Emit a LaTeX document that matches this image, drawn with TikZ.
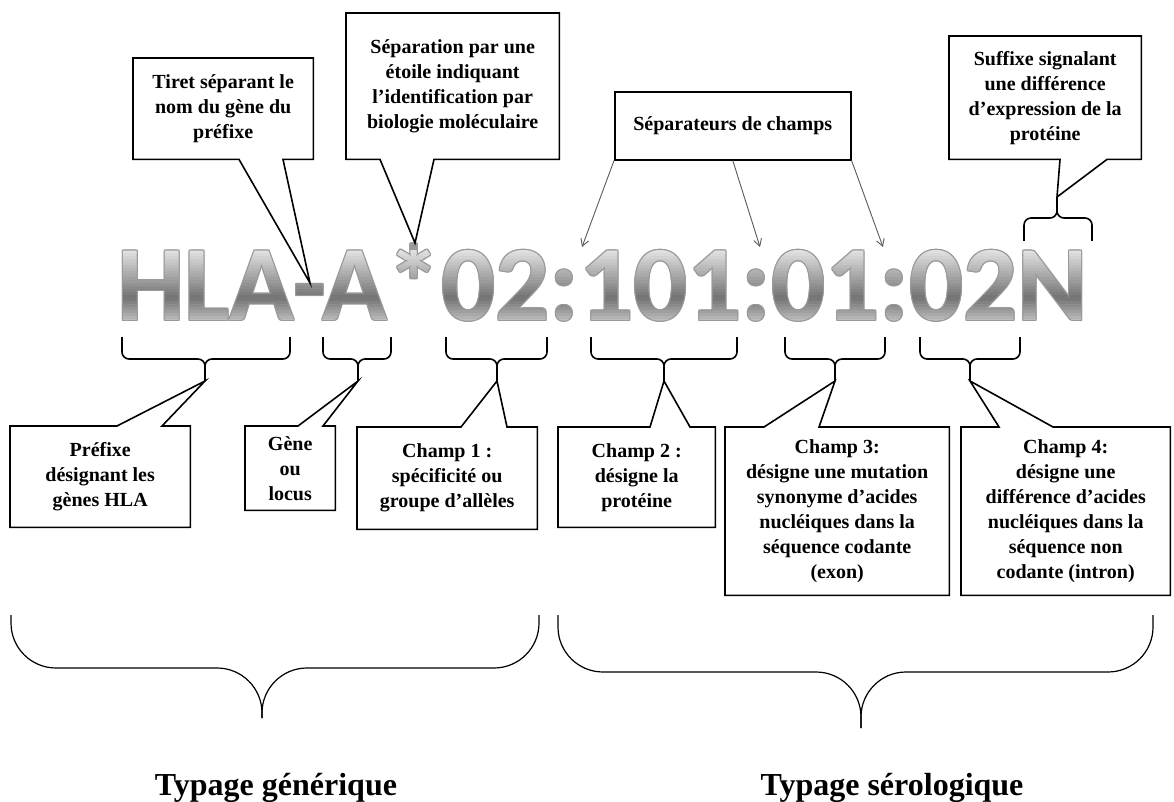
\documentclass[tikz,border=0pt]{standalone}
\usepackage{fontspec}
\setmainfont{Liberation Serif}
\newfontfamily\hlafont{Carlito}
\usetikzlibrary{arrows.meta}

\tikzset{
  callbox/.style={align=center,inner sep=0pt,anchor=north west,font=\fontsize{20}{25}\selectfont\bfseries},
  callline/.style={line width=1.6pt},
  brace/.style={line width=1.6pt,rounded corners=7pt},
  bigbrace/.style={line width=1.2pt,rounded corners=45pt},
  sepline/.style={->,black!65,line width=0.9pt},
  hlatext/.style={anchor=base west,inner sep=0pt,font=\hlafont\bfseries\fontsize{107}{107}\selectfont},
  typtext/.style={anchor=base,font=\fontsize{32}{32}\selectfont\bfseries}
}
% callout outline: box node, left and right end of the pointer base, tip
\newcommand{\calldown}[4]{\draw[callline] (#1.north west) -- (#1.north east) -- (#1.south east) -- (#3,0 |- #1.south) -- (#4) -- (#2,0 |- #1.south) -- (#1.south west) -- cycle;}
\newcommand{\callup}[4]{\draw[callline] (#1.south west) -- (#1.south east) -- (#1.north east) -- (#3,0 |- #1.north) -- (#4) -- (#2,0 |- #1.north) -- (#1.north west) -- cycle;}

\begin{document}
\begin{tikzpicture}[x=1pt,y=-1pt,>={Straight Barb[length=7pt,width=8pt]}]
    \useasboundingbox (0,0) rectangle (1174,802);
    % the allele name, gray rim then gradient in bands
    \foreach \dx/\dy [count=\k] in {-1/0,1/0,0/-1,0/1,-1/-1,1/1,-1/1,1/-1}
        \node[hlatext,text=black!40] (hlarim\k) at ({117+\dx},{320+\dy}) {HLA-A*02:101:01:02N};
    \foreach \i in {0,...,25}{
        \pgfmathsetmacro{\bandpos}{\i/25}
        \pgfmathsetmacro{\banddark}{\bandpos<0.62 ? 12+43*\bandpos/0.62 : 55-37*(\bandpos-0.62)/0.38}
        \begin{scope}
            \clip (0,{250+3*\i}) rectangle (1174,{253.5+3*\i});
            \node[hlatext,text=black!\banddark] (hla\i) at (117,320) {HLA-A*02:101:01:02N};
        \end{scope}
    }

    % callouts above
    \node[callbox,minimum width=180pt,minimum height=101pt] (tiret) at (133,58) {Tiret séparant le\\nom du gène du\\préfixe};
    \node[callbox,minimum width=213pt,minimum height=146pt] (etoile) at (346,13) {Séparation par une\\étoile indiquant\\l’identification par\\biologie moléculaire};
    \node[callbox,draw,line width=1.6pt,minimum width=236pt,minimum height=68pt] (sep) at (614,91) {Séparateurs de champs};
    \node[callbox,minimum width=192pt,minimum height=123pt] (suffixe) at (949,36) {Suffixe signalant\\une différence\\d’expression de la\\protéine};
    \coordinate (tTiret) at (310,283);
    \coordinate (tEtoile) at (415,243);
    \coordinate (tSuffixe) at (1057,197);
    \calldown{tiret}{239}{283}{tTiret}
    \calldown{etoile}{380}{434}{tEtoile}
    \calldown{suffixe}{1060}{1107}{tSuffixe}
    \draw[brace] (1024,241) |- (1057,218) -- (tSuffixe);
    \draw[brace] (1092,241) |- (1057,218) -- (tSuffixe);

    \coordinate (s1) at (582,247);
    \coordinate (s2) at (760,247);
    \coordinate (s3) at (883,247);
    \draw[sepline] (sep.south west) -- (s1);
    \draw[sepline] (sep.south) -- (s2);
    \draw[sepline] (sep.south east) -- (s3);

    % braces under the fields
    \foreach \a/\b/\c [count=\k] in {122/290/205,323/391/358,446/547/497,591/737/664,785/885/835,920/1020/970}{
        \coordinate (b\k) at (\c,381);
        \draw[brace] (\a,337) |- (\c,359) -- (b\k);
        \draw[brace] (\b,337) |- (\c,359) -- (b\k);
    }

    % callouts below
    \node[callbox,minimum width=180pt,minimum height=101pt] (prefixe) at (10,426) {Préfixe\\désignant les\\gènes HLA};
    \node[callbox,minimum width=90pt,minimum height=84pt] (gene) at (245,426) {Gène\\ou\\locus};
    \node[callbox,minimum width=180pt,minimum height=102pt] (champA) at (357,427) {Champ 1 :\\spécificité ou\\groupe d’allèles};
    \node[callbox,minimum width=157pt,minimum height=100pt] (champB) at (558,427) {Champ 2 :\\désigne la\\protéine};
    \node[callbox,minimum width=224pt,minimum height=168pt] (champC) at (725,427) {Champ 3:\\désigne une mutation\\synonyme d’acides\\nucléiques dans la\\séquence codante\\(exon)};
    \node[callbox,minimum width=209pt,minimum height=168pt] (champD) at (961,427) {Champ 4:\\désigne une\\différence d’acides\\nucléiques dans la\\séquence non\\codante (intron)};
    \callup{prefixe}{117}{162}{b1}
    \callup{gene}{298}{323}{b2}
    \callup{champA}{461}{507}{b3}
    \callup{champB}{650}{690}{b4}
    \callup{champC}{764}{819}{b5}
    \callup{champD}{999}{1053}{b6}

    % typing levels
    \coordinate (gen) at (262,718);
    \coordinate (sero) at (861,728);
    \draw[bigbrace] (11,615) |- (262,668) -- (gen);
    \draw[bigbrace] (539,615) |- (262,668) -- (gen);
    \draw[bigbrace] (558,615) |- (861,672) -- (sero);
    \draw[bigbrace] (1153,615) |- (861,672) -- (sero);
    \node[typtext] (typgen) at (276,795) {Typage générique};
    \node[typtext] (typsero) at (892,795) {Typage sérologique};
\end{tikzpicture}
\end{document}
